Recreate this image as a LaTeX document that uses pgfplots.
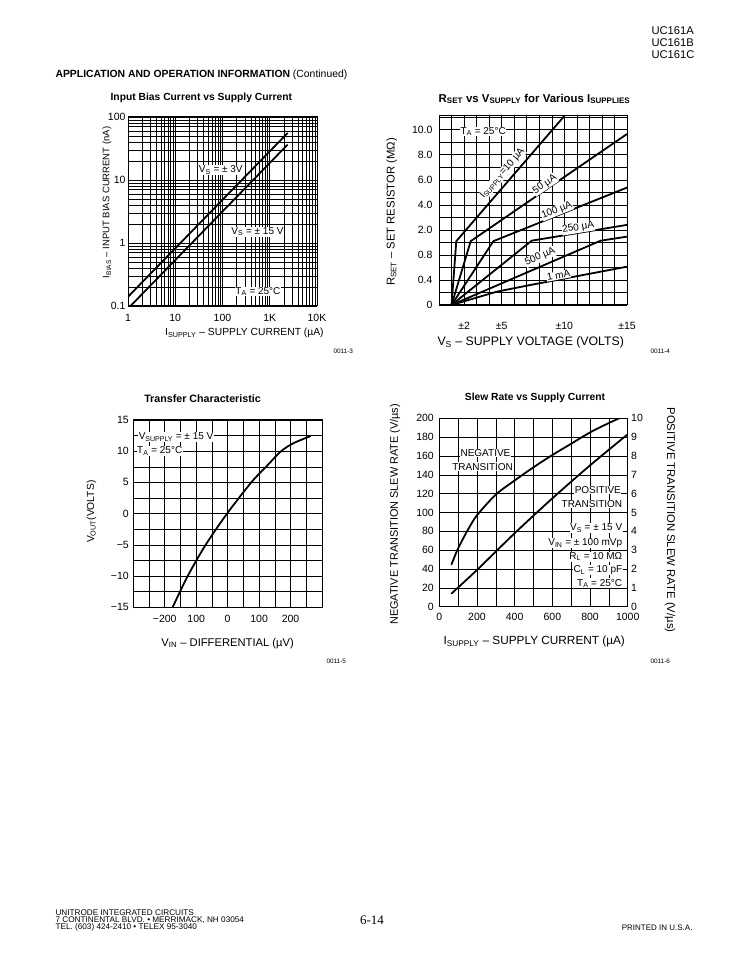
\documentclass[border=0pt]{standalone}
\usepackage{fontspec}
\setmainfont{Liberation Sans}
\newfontfamily\serifpage{Liberation Serif}
\usepackage{pgfplots}
\pgfplotsset{compat=1.18}
\newcommand{\fs}[1]{\fontsize{#1}{#1}\selectfont}
\newcommand{\sub}[1]{\textsubscript{#1}}
\pgfplotsset{
  sheet/.style={
    scale only axis, anchor=south west,
    axis line style={line width=1pt},
    major tick length=0pt, minor tick length=0pt,
    grid=both,
    major grid style={black, line width=0.6pt},
    minor grid style={black, line width=0.6pt},
    tick label style={font=\fs{10.5}},
    label style={font=\fs{10.3}},
    title style={font=\bfseries\fs{10.3}, yshift=-6pt},
    /pgf/number format/assume math mode=true,
    /pgf/number format/1000 sep={},
  },
}
\tikzset{
  curve/.style={black, line width=1.8pt, line join=round, line cap=round},
  lab/.style={fill=white, inner sep=0.6pt, font=\fs{10}},
}
\begin{document}
\begin{tikzpicture}
\path[use as bounding box] (0pt,0pt) rectangle (729pt,973pt);

% page header
\node[anchor=west, font=\fs{11.2}] at (648pt,942pt) {UC161A};
\node[anchor=west, font=\fs{11.2}] at (648pt,930pt) {UC161B};
\node[anchor=west, font=\fs{11.2}] at (648pt,918pt) {UC161C};
\node[anchor=west, font=\fs{10.4}] at (52pt,898pt) {\textbf{APPLICATION AND OPERATION INFORMATION} (Continued)};

% ---------- Chart 1 ----------
\begin{axis}[sheet, at={(128pt,667pt)}, width=189pt, height=189pt,
  xmode=log, ymode=log, xmin=1, xmax=10000, ymin=0.1, ymax=100,
  xtick={1,10,100,1000,10000}, xticklabels={1,10,100,1K,10K},
  ytick={0.1,1,10,100}, yticklabels={0.1,1,10,100},
  xticklabel style={yshift=-5pt}, yticklabel style={xshift=1pt},
  title={Input Bias Current vs Supply Current},
  title style={at={(axis description cs:0.388,1.099)}, anchor=center},
  xlabel={I\sub{SUPPLY} – SUPPLY CURRENT (µA)},
  xlabel style={at={(axis description cs:0.616,-0.143)}, anchor=center},
  ylabel={I\sub{BIAS} – INPUT BIAS CURRENT (nA)},
  ylabel style={at={(axis description cs:-0.111,0.548)}, anchor=center, font=\fs{9.5}},
]
\addplot[curve] coordinates {(1,0.14) (2350,55)};
\addplot[curve] coordinates {(1.13,0.1) (2350,36)};
\node[lab] at (axis cs:92,14.4) {V\sub{S} = ± 3V};
\node[lab] at (axis cs:550,1.51) {V\sub{S} = ± 15 V};
\node[lab] at (axis cs:563,0.169) {T\sub{A} = 25°C};
\end{axis}
\node[anchor=west, font=\fs{6.4}] at (330pt,621.3pt) {0011-3};

% ---------- Chart 2 ----------
\begin{axis}[sheet, at={(439pt,668pt)}, width=188pt, height=189pt,
  xmin=0, xmax=15, ymin=0, ymax=7.55,
  xtick={2,5,10,15}, xticklabels={±2,±5,±10,±15},
  ytick={0,1,...,7}, yticklabels={0,0.4,0.8,2.0,4.0,6.0,8.0,10.0},
  minor xtick={0,1,...,15}, minor ytick={0,0.5,...,7.5},
  xticklabel style={yshift=-14pt}, yticklabel style={xshift=-3pt},
  title={R\sub{SET} vs V\sub{SUPPLY} for Various I\sub{SUPPLIES}},
  title style={at={(axis description cs:0.508,1.09)}, anchor=center, font=\bfseries\fs{11.4}},
  xlabel={V\sub{S} – SUPPLY VOLTAGE (VOLTS)},
  xlabel style={at={(axis description cs:0.488,-0.196)}, anchor=center, font=\fs{12.3}},
  ylabel={R\sub{SET} – SET RESISTOR (MΩ)},
  ylabel style={at={(axis description cs:-0.252,0.492)}, anchor=center, font=\fs{11.3}},
]
\addplot[curve] coordinates {(1,0) (1.38,2.55) (10.0,7.55)};
\addplot[curve] coordinates {(1,0) (2.53,2.55) (15,6.83)};
\addplot[curve] coordinates {(1,0) (4.34,2.55) (15,4.69)};
\addplot[curve] coordinates {(1,0) (7.4,2.57) (15,3.2)};
\addplot[curve] coordinates {(1,0) (12.9,2.57) (15,2.73)};
\addplot[curve] coordinates {(1,0) (4.6,0.53) (7.3,0.8) (15,1.53)};
\node[lab, rotate=49.3, anchor=south, outer sep=4pt] at (axis cs:5.61,5.01) {I\sub{SUPPLY}=10 µA};
\node[lab, rotate=34.5, anchor=south, outer sep=0pt] at (axis cs:8.67,4.64) {50 µA};
\node[lab, rotate=22, anchor=south, outer sep=0pt] at (axis cs:9.56,3.59) {100 µA};
\node[lab, rotate=9.4, anchor=south, outer sep=0pt] at (axis cs:11.18,2.88) {250 µA};
\node[lab, rotate=23.3, anchor=south, outer sep=4pt] at (axis cs:8.36,1.59) {500 µA};
\node[lab, rotate=10.5, anchor=south, outer sep=0pt] at (axis cs:9.59,1.02) {1 mA};
\node[lab] at (axis cs:3.53,6.93) {T\sub{A} = 25°C};
\end{axis}
\node[anchor=west, font=\fs{6.4}] at (647pt,621.3pt) {0011-4};

% ---------- Chart 3 ----------
\begin{axis}[sheet, at={(133.3pt,365.7pt)}, width=188.7pt, height=187.3pt,
  xmin=-300, xmax=300, ymin=-15, ymax=15,
  xtick={-200,-100,0,100,200}, xticklabels={−200,100,0,100,200},
  ytick={-15,-10,...,15}, yticklabels={−15,−10,−5,0,5,10,15},
  minor xtick={-250,-150,...,250}, minor ytick={-12.5,-7.5,...,12.5},
  xticklabel style={yshift=-4.5pt}, yticklabel style={xshift=-1pt},
  title={Transfer Characteristic},
  title style={at={(axis description cs:0.367,1.116)}, anchor=center, font=\bfseries\fs{10.7}},
  xlabel={V\sub{IN} – DIFFERENTIAL (µV)},
  xlabel style={at={(axis description cs:0.5,-0.192)}, anchor=center, font=\fs{11.2}},
  ylabel={V\sub{OUT}(VOLTS)},
  ylabel style={at={(axis description cs:-0.222,0.51)}, anchor=center},
]
\addplot[curve, smooth, tension=0.5] coordinates {(-175,-15) (-127,-10) (-70,-5) (-2,0) (75,5) (122,7.5) (170,10) (210,11.3) (263,12.4)};
\node[lab, anchor=west] at (axis cs:-285,12.3) {V\sub{SUPPLY} = ± 15 V};
\node[lab, anchor=west] at (axis cs:-290,10.0) {T\sub{A} = 25°C};
\end{axis}
\node[anchor=west, font=\fs{6.4}] at (323pt,311.3pt) {0011-5};

% ---------- Chart 4 ----------
\begin{axis}[sheet, at={(439.3pt,366.3pt)}, width=188.4pt, height=188.4pt,
  xmin=0, xmax=1000, ymin=0, ymax=200,
  xtick={0,200,...,1000}, ytick={0,20,...,200},
  minor xtick={100,300,...,900},
  xticklabel style={yshift=-3pt}, yticklabel style={xshift=-2pt},
  title={Slew Rate vs Supply Current},
  title style={at={(axis description cs:0.508,1.106)}, anchor=center},
  xlabel={I\sub{SUPPLY} – SUPPLY CURRENT (µA)},
  xlabel style={at={(axis description cs:0.504,-0.186)}, anchor=center, font=\fs{11.8}},
  ylabel={NEGATIVE TRANSITION SLEW RATE (V/µs)},
  ylabel style={at={(axis description cs:-0.235,0.49)}, anchor=center, font=\fs{10.9}},
]
\addplot[curve, smooth, tension=0.5] coordinates {(65,45) (100,62) (150,81) (200,97) (300,119) (400,134) (500,148) (600,161) (700,173) (800,185) (900,195) (955,200)};
\node[lab] at (axis cs:245,162.8) {NEGATIVE};
\node[lab] at (axis cs:230,148.7) {TRANSITION};
\node[lab, anchor=east] at (axis cs:968,123.9) {POSITIVE};
\node[lab, anchor=east] at (axis cs:975,109) {TRANSITION};
\node[lab, anchor=east] at (axis cs:975,83.2) {V\sub{S} = ± 15 V};
\node[lab, anchor=east] at (axis cs:975,67.3) {V\sub{IN} = ± 100 mVp};
\node[lab, anchor=east] at (axis cs:975,53.1) {R\sub{L} = 10 MΩ};
\node[lab, anchor=east] at (axis cs:975,38.9) {C\sub{L} = 10 pF};
\node[lab, anchor=east] at (axis cs:975,24.8) {T\sub{A} = 25°C};
\end{axis}
\begin{axis}[scale only axis, anchor=south west, at={(439.3pt,366.3pt)}, width=188.4pt, height=188.4pt,
  xmin=0, xmax=1000, ymin=0, ymax=10,
  axis y line*=right, axis x line=none,
  axis line style={line width=1pt},
  ytick={0,1,...,10}, major tick length=0pt,
  tick label style={font=\fs{10.5}},
  /pgf/number format/assume math mode=true,
  ylabel={POSITIVE TRANSITION SLEW RATE (V/µs)},
  ylabel style={at={(axis description cs:1.225,0.46)}, rotate=180, anchor=center, font=\fs{11.3}},
]
\addplot[curve, smooth, tension=0.5] coordinates {(65,0.7) (200,1.95) (400,3.9) (600,5.75) (800,7.5) (1000,9.15)};
\end{axis}
\node[anchor=west, font=\fs{6.4}] at (647pt,311.3pt) {0011-6};

% footer
\node[anchor=west, font=\fs{8.2}] at (52pt,60pt) {UNITRODE INTEGRATED CIRCUITS};
\node[anchor=west, font=\fs{8.2}] at (52pt,52.6pt) {7 CONTINENTAL BLVD. • MERRIMACK, NH 03054};
\node[anchor=west, font=\fs{8.2}] at (52pt,45.2pt) {TEL. (603) 424-2410 • TELEX 95-3040};
\node[font=\serifpage\fs{13}] at (372pt,53pt) {6-14};
\node[anchor=east, font=\fs{8}] at (696pt,45.2pt) {PRINTED IN U.S.A.};
\end{tikzpicture}
\end{document}
